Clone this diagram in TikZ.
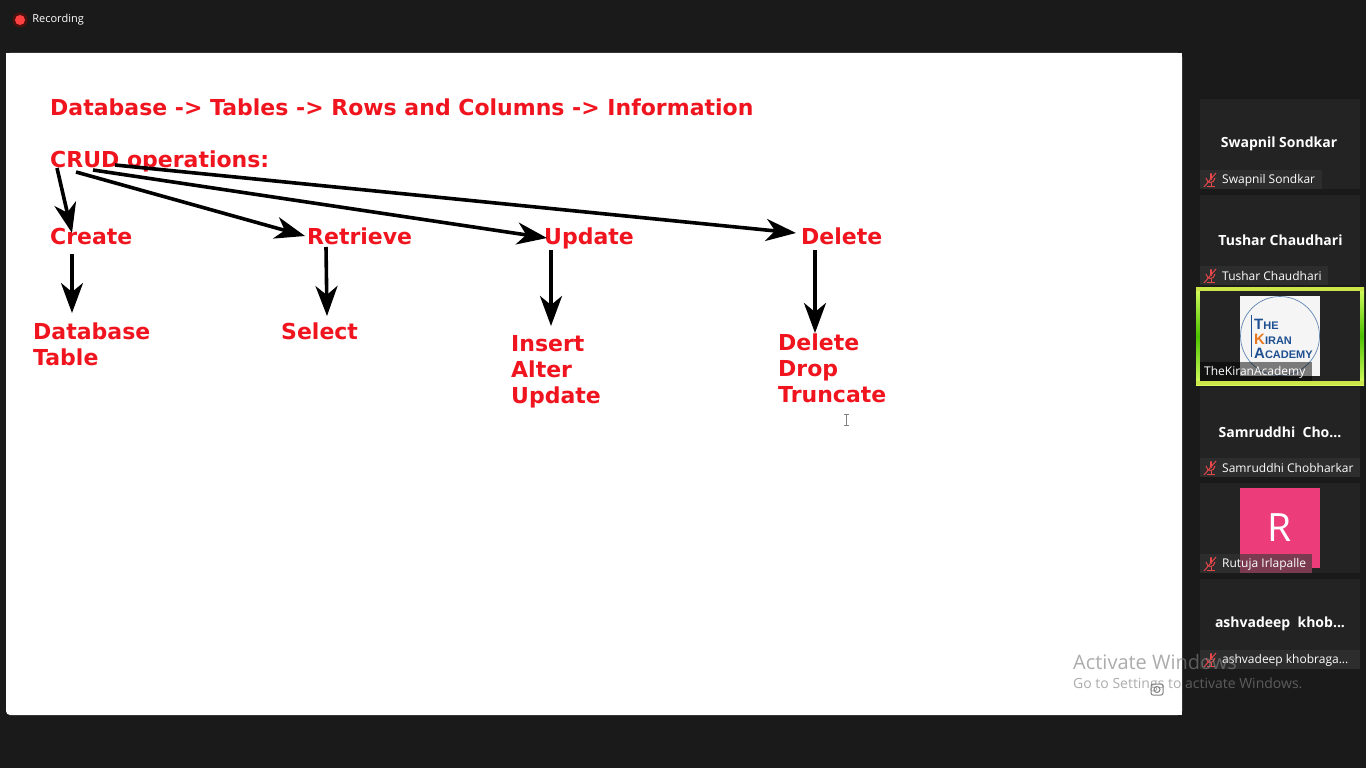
\documentclass[tikz,border=0pt]{standalone}
\usepackage{fontspec}
\setmainfont{Open Sans}
\newfontfamily\slidefont{DejaVu Sans}
\newfontfamily\logofont{Liberation Sans}
\usetikzlibrary{arrows.meta, positioning, shapes}
\definecolor{screenbg}{HTML}{1A1A1A}
\definecolor{tilebg}{HTML}{232323}
\definecolor{barbg}{HTML}{2D2D2D}
\definecolor{slidered}{HTML}{F0141E}
\definecolor{logoblue}{HTML}{1D4F91}
\definecolor{logoorange}{HTML}{E87722}
\definecolor{mutered}{HTML}{E8474C}
\definecolor{avatarpink}{HTML}{EC3D7A}
\definecolor{avatarbar}{HTML}{7A3A50}
\tikzstyle{redtext} = [inner sep=0pt, anchor=base west, text=slidered, font=\slidefont\bfseries\fontsize{22}{26}\selectfont]
\tikzstyle{line} = [draw, line width=3.6pt, -{Stealth[length=30pt, width=22pt, inset=9pt]}]
\tikzstyle{tile} = [rectangle, fill=tilebg, minimum width=160pt, minimum height=90pt, inner sep=0pt, anchor=north west]
\tikzstyle{namebar} = [rectangle, fill=barbg, minimum height=19pt, inner sep=0pt, anchor=south west]
\tikzstyle{tilename} = [inner sep=0pt, text=white, font=\bfseries\fontsize{14}{16}\selectfont]
\tikzstyle{barname} = [inner sep=0pt, anchor=west, text=white, font=\fontsize{12}{14}\selectfont]
\tikzstyle{logotext} = [inner sep=0pt, anchor=base west, font=\logofont\bfseries]
\tikzset{mutemic/.pic={
	\draw [mutered, line width=2.2pt, line cap=round] (1,-6) -- (1,-1);
	\draw [mutered, line width=1pt] (-4,-2) .. controls (-3,4) and (4,4) .. (5,-2);
	\draw [mutered, line width=1pt] (1,3) -- (1,6) (-3,6) -- (5,6);
	\draw [mutered, line width=1pt] (-6,7) -- (6,-7);
}}

\begin{document}
\begin{tikzpicture}[x=1pt, y=-1pt]
	\useasboundingbox (0,0) rectangle (1366,768);
	\fill [screenbg] (0,0) rectangle (1366,768);

	% top bar
	\fill [red!70!black, opacity=0.35] (20,20) circle (7.5);
	\node [circle, fill=red!75!white, minimum size=10pt, inner sep=0pt] (recdot) at (20,20) {};
	\node [inner sep=0pt, anchor=west, text=white, font=\fontsize{11}{13}\selectfont, right=7pt of recdot] (rectext) {Recording};

	% slide
	\fill [white, rounded corners=4pt] (6,53) rectangle (1182,715);
	\fill [white] (6,53) rectangle (1182,700);
	\fill [white] (20,700) rectangle (1182,715);

	\node [redtext] (title) at (50,115) {Database -> Tables -> Rows and Columns -> Information};
	\node [redtext] (crud) at (50,167) {CRUD operations:};
	\node [redtext] (create) at (50,244) {Create};
	\node [redtext] (retrieve) at (307,244) {Retrieve};
	\node [redtext] (update) at (544,244) {Update};
	\node [redtext] (delete) at (801,244) {Delete};

	\node [redtext] (database) at (33,339) {Database};
	\node [redtext, below=26pt of database.base west, anchor=base west] (table) {Table};
	\node [redtext] (select) at (281,339) {Select};
	\node [redtext] (insert) at (511,351) {Insert};
	\node [redtext, below=26pt of insert.base west, anchor=base west] (alter) {Alter};
	\node [redtext, below=26pt of alter.base west, anchor=base west] (updatecmd) {Update};
	\node [redtext] (deletecmd) at (778,350) {Delete};
	\node [redtext, below=26pt of deletecmd.base west, anchor=base west] (drop) {Drop};
	\node [redtext, below=26pt of drop.base west, anchor=base west] (truncate) {Truncate};

	\path [line] ([shift={(7,1)}]crud.base west) -- ([shift={(22,-11)}]create.base west);
	\path [line] ([shift={(26,5)}]crud.base west) -- ([shift={(-2,-8)}]retrieve.base west);
	\path [line] ([shift={(43,3)}]crud.base west) -- ([shift={(3,-6)}]update.base west);
	\path [line] ([shift={(65,-2)}]crud.base west) -- ([shift={(-5,-11)}]delete.base west);
	\path [line] ([shift={(22,10)}]create.base west) -- ([shift={(39,-26)}]database.base west);
	\path [line] ([shift={(19,3)}]retrieve.base west) -- ([shift={(46,-23)}]select.base west);
	\path [line] ([shift={(7,6)}]update.base west) -- ([shift={(40,-25)}]insert.base west);
	\path [line] ([shift={(14,6)}]delete.base west) -- ([shift={(37,-17)}]deletecmd.base west);

	% text cursor
	\draw [gray, line width=1pt] (846,414) -- (846,425) (843.5,414) -- (848.5,414) (843.5,425) -- (848.5,425);

	% participants
	\node [tile] (swapnil) at (1200,99) {};
	\node [tilename] at (1279,144) {Swapnil Sondkar};
	\node [namebar, minimum width=122pt] (swapnilbar) at (swapnil.south west) {};
	\pic at (1210,180) {mutemic};
	\node [barname] at (1222,180) {Swapnil Sondkar};

	\node [tile] (tushar) at (1200,195) {};
	\node [tilename] at (1280.5,240) {Tushar Chaudhari};
	\node [namebar, minimum width=128pt] (tusharbar) at (tushar.south west) {};
	\pic at (1210,276) {mutemic};
	\node [barname] at (1222,276) {Tushar Chaudhari};

	\node [rectangle, minimum width=168pt, minimum height=98pt, inner sep=0pt, top color=yellow!55!white!85!green, bottom color=yellow!55!white!85!green, middle color=green!65!black!70!yellow] (speaker) at (1280,336) {};
	\node [rectangle, fill=yellow!70!white!80!green, minimum width=168pt, minimum height=4pt, inner sep=0pt, anchor=north] at (speaker.north) {};
	\node [rectangle, fill=yellow!70!white!80!green, minimum width=168pt, minimum height=4pt, inner sep=0pt, anchor=south] at (speaker.south) {};
	\node [rectangle, fill=tilebg, minimum width=160pt, minimum height=90pt, inner sep=0pt] at (speaker.center) {};
	\node [rectangle, fill=black!4, minimum width=80pt, minimum height=80pt, inner sep=0pt] (logo) at (1280,336) {};
	\draw [logoblue!70!white, line width=0.7pt] (logo.center) circle (39.5);
	\draw [logoblue, line width=1pt] (1251,315) -- (1251,357);
	\node [logotext, text=logoblue, font=\logofont\bfseries\fontsize{15}{15}\selectfont] (logothe) at (1254,329) {T\fontsize{11}{11}\selectfont HE};
	\node [logotext, text=logoblue, font=\logofont\bfseries\fontsize{11}{11}\selectfont] (logokiran) at (1254,344) {\textcolor{logoorange}{\fontsize{15}{15}\selectfont K}IRAN};
	\node [logotext, text=logoblue, font=\logofont\bfseries\fontsize{11}{11}\selectfont] (logoacademy) at (1254,358) {{\fontsize{15}{15}\selectfont A}CADEMY};
	\node [namebar, fill=black, fill opacity=0.5, minimum width=112pt] (speakerbar) at (1200,381) {};
	\node [barname] at (1204,372) {TheKiranAcademy};

	\node [tile] (samruddhi) at (1200,387) {};
	\node [tilename] at (1280,432) {Samruddhi\ \ Cho...};
	\node [namebar, minimum width=160pt] (samruddhibar) at (samruddhi.south west) {};
	\pic at (1210,468) {mutemic};
	\node [barname] at (1222,468) {Samruddhi Chobharkar};

	\node [tile] (rutuja) at (1200,483) {};
	\node [rectangle, fill=avatarpink, minimum width=80pt, minimum height=80pt, inner sep=0pt, text=white, font=\fontsize{39}{39}\selectfont] (avatar) at (1280,528) {R};
	\node [namebar, fill=barbg, minimum width=40pt] (rutujabar) at (rutuja.south west) {};
	\node [namebar, fill=avatarbar, minimum width=72pt] (rutujabartwo) at (1240,573) {};
	\pic at (1210,564) {mutemic};
	\node [barname] at (1222,564) {Rutuja Irlapalle};

	\node [tile] (ashvadeep) at (1200,579) {};
	\node [tilename] at (1280,624) {ashvadeep\ \ khob...};
	\node [namebar, minimum width=160pt] (ashvadeepbar) at (ashvadeep.south west) {};
	\pic at (1210,660) {mutemic};
	\node [barname] at (1222,660) {ashvadeep khobraga...};

	% windows watermark
	\node [inner sep=0pt, anchor=west, text=gray, text opacity=0.65, font=\fontsize{20}{24}\selectfont] (activate) at (1073,662) {Activate Windows};
	\node [inner sep=0pt, anchor=west, text=gray, text opacity=0.65, font=\fontsize{14}{16}\selectfont] (settings) at (1073,685) {Go to Settings to activate Windows.};
	\draw [gray, line width=1pt, rounded corners=2pt] (1151,684) rectangle (1163,695);
	\draw [gray, line width=1pt] (1157,689.5) circle (3);
\end{tikzpicture}
\end{document}
